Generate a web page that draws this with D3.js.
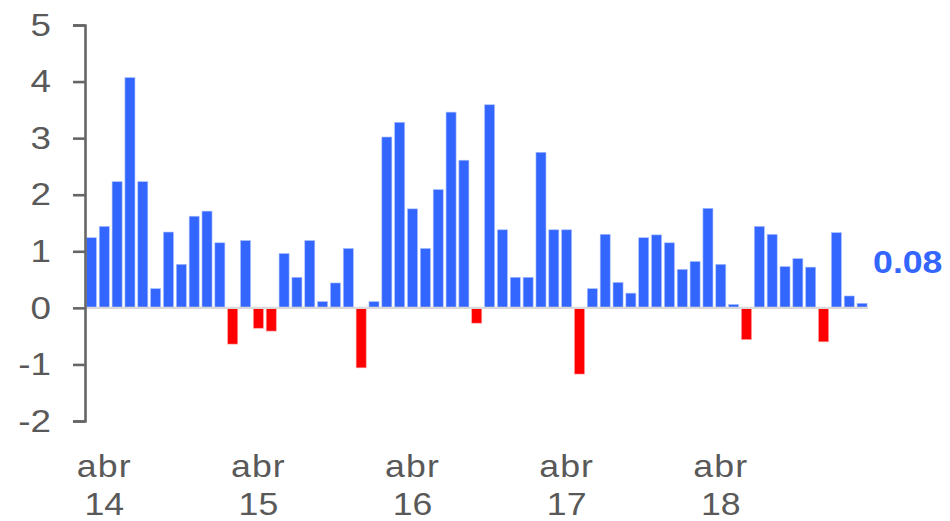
<!DOCTYPE html>
<html>
<head>
<meta charset="utf-8">
<script src="https://cdn.jsdelivr.net/npm/d3@7"></script>
<style>
  body { margin: 0; background: #fff; }
  text { font-family: "Liberation Sans", Arial, sans-serif; }
</style>
</head>
<body>
<div id="chart"></div>
<script>
// monthly categories, mar 2014 .. mar 2019
const months = [
  "2014-03", "2014-04", "2014-05", "2014-06", "2014-07", "2014-08", "2014-09", "2014-10", "2014-11", "2014-12",
  "2015-01", "2015-02", "2015-03", "2015-04", "2015-05", "2015-06", "2015-07", "2015-08", "2015-09", "2015-10",
  "2015-11", "2015-12", "2016-01", "2016-02", "2016-03", "2016-04", "2016-05", "2016-06", "2016-07", "2016-08",
  "2016-09", "2016-10", "2016-11", "2016-12", "2017-01", "2017-02", "2017-03", "2017-04", "2017-05", "2017-06",
  "2017-07", "2017-08", "2017-09", "2017-10", "2017-11", "2017-12", "2018-01", "2018-02", "2018-03", "2018-04",
  "2018-05", "2018-06", "2018-07", "2018-08", "2018-09", "2018-10", "2018-11", "2018-12", "2019-01", "2019-02",
  "2019-03",
];

const values = [
  1.24, 1.44, 2.23, 4.07, 2.23, 0.34, 1.34, 0.77, 1.62, 1.71,
  1.15, -0.64, 1.19, -0.36, -0.41, 0.96, 0.54, 1.19, 0.11, 0.44,
  1.05, -1.06, 0.11, 3.02, 3.28, 1.75, 1.05, 2.09, 3.46, 2.61,
  -0.27, 3.59, 1.38, 0.54, 0.54, 2.75, 1.38, 1.38, -1.17, 0.34,
  1.3, 0.45, 0.26, 1.24, 1.29, 1.15, 0.68, 0.82, 1.76, 0.77,
  0.06, -0.56, 1.44, 1.3, 0.73, 0.87, 0.72, -0.6, 1.33, 0.21,
  0.08,
];

const yTicks = [-2, -1, 0, 1, 2, 3, 4, 5];
const tickMonths = ["2014-04", "2015-04", "2016-04", "2017-04", "2018-04"];
const tickLabels = [["abr", "14"], ["abr", "15"], ["abr", "16"], ["abr", "17"], ["abr", "18"]];

const width = 950,
  height = 521;

const font = "'Liberation Sans', Arial, sans-serif";
const stretch = 1.15;

const svg = d3
  .select("#chart")
  .append("svg")
  .attr("width", width)
  .attr("height", height);

const x = d3
  .scaleBand()
  .domain(months)
  .range([85, 868.5])
  .paddingInner(0.22)
  .paddingOuter(0.11);

const y = d3.scaleLinear().domain([-2, 5]).range([421, 25]);

const data = months.map((m, i) => ({ month: m, value: values[i] }));

// bars
svg
  .selectAll(".bar")
  .data(data)
  .enter()
  .append("rect")
  .attr("class", "bar")
  .attr("x", (d) => x(d.month))
  .attr("width", x.bandwidth())
  .attr("y", (d) => y(Math.max(0, d.value)))
  .attr("height", (d) => Math.abs(y(d.value) - y(0)))
  .attr("fill", (d) => (d.value < 0 ? "#ff0000" : "#3366ff"))
  .attr("stroke", (d) => (d.value < 0 ? "#ff9a9a" : "#a9bfff"))
  .attr("stroke-width", 0.6);

// zero line
svg
  .append("line")
  .attr("x1", 85)
  .attr("x2", 868)
  .attr("y1", y(0))
  .attr("y2", y(0))
  .attr("stroke", "#d9d9d9")
  .attr("stroke-width", 2.2);

// y axis
const yAxis = svg
  .append("g")
  .attr("transform", "translate(85,0)")
  .call(
    d3.axisLeft(y)
      .tickValues(yTicks)
      .tickFormat((d) => String(d))
      .tickSize(12)
      .tickSizeOuter(12)
      .tickPadding(22)
  );

yAxis.select(".domain").attr("stroke", "#666").attr("stroke-width", 2.6);
yAxis.selectAll(".tick line").attr("stroke", "#666").attr("stroke-width", 2.6);
yAxis
  .selectAll(".tick text")
  .attr("x", 0)
  .attr("transform", "translate(-34,0) scale(" + stretch + ",1)")
  .attr("fill", "#595959")
  .style("font-size", "32px")
  .style("font-family", font);

// x labels
const xLab = svg
  .selectAll(".xlab")
  .data(tickMonths)
  .enter()
  .append("text")
  .attr("class", "xlab")
  .attr("text-anchor", "middle")
  .attr("fill", "#595959")
  .style("font-size", "31px")
  .style("font-family", font)
  .attr("transform", (d) => "translate(" + (x(d) + x.bandwidth() / 2) + ",0) scale(" + stretch + ",1)");

xLab
  .append("tspan")
  .attr("x", 0)
  .attr("y", 477)
  .attr("letter-spacing", 1)
  .text((d, i) => tickLabels[i][0]);

xLab
  .append("tspan")
  .attr("x", 0)
  .attr("y", 515)
  .text((d, i) => tickLabels[i][1]);

// last value label
const last = data[data.length - 1];
svg
  .append("text")
  .attr("transform", "translate(" + (x(last.month) + x.bandwidth() + 6) + "," + (y(0) - 35) + ") scale(" + stretch + ",1)")
  .attr("fill", "#3366ff")
  .style("font-size", "31px")
  .style("font-weight", "700")
  .style("font-family", font)
  .text(d3.format(".2f")(last.value));
</script>
</body>
</html>
